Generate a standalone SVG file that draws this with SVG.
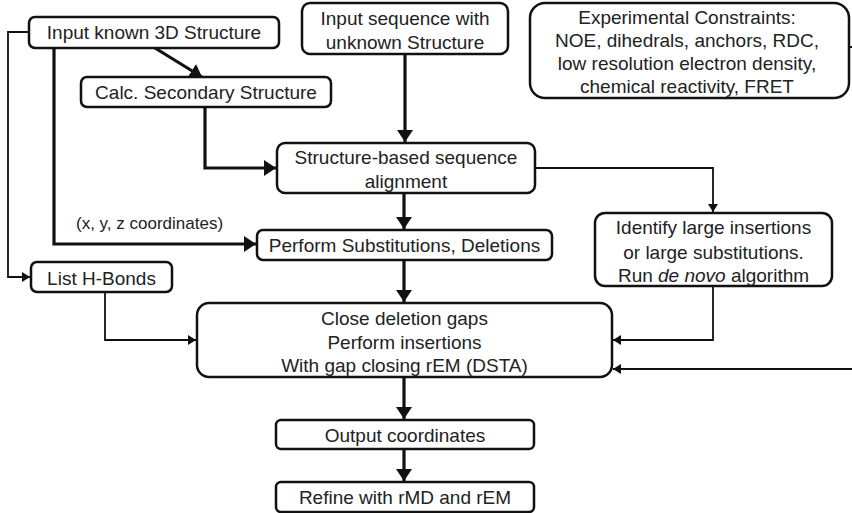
<svg xmlns="http://www.w3.org/2000/svg" width="852" height="513" viewBox="0 0 852 513">
  <style>
    .box { fill: #fff; stroke: #111; stroke-width: 2.5; }
    .t { font-family: "Liberation Sans", Arial, sans-serif; font-size: 19px; fill: #222; text-anchor: middle; }
    .lbl { font-family: "Liberation Sans", Arial, sans-serif; font-size: 17px; fill: #222; }
    .thick { fill: none; stroke: #111; stroke-width: 3.2; }
    .thin { fill: none; stroke: #111; stroke-width: 1.8; }
  </style>
  <defs>
    <marker id="headBig" markerUnits="userSpaceOnUse" markerWidth="12" markerHeight="16" refX="12" refY="8" orient="auto">
      <path d="M0,0 L12,8 L0,16 z" fill="#111"/>
    </marker>
    <marker id="headSmall" markerUnits="userSpaceOnUse" markerWidth="8" markerHeight="10" refX="8" refY="5" orient="auto">
      <path d="M0,0 L8,5 L0,10 z" fill="#111"/>
    </marker>
  </defs>
  <rect width="852" height="513" fill="#fff"/>

  <g id="connectors">
    <path class="thick" d="M155 48 L202 77" marker-end="url(#headBig)"/>
    <path class="thick" d="M205 107 V168 H276" marker-end="url(#headBig)"/>
    <path class="thick" d="M405 54 V142" marker-end="url(#headBig)"/>
    <path class="thick" d="M54 48 V244 H256" marker-end="url(#headBig)"/>
    <path class="thin" d="M29 32 H8 V277 H30" marker-end="url(#headSmall)"/>
    <path class="thick" d="M404 193 V229" marker-end="url(#headBig)"/>
    <path class="thin" d="M535 168 H713 V212" marker-end="url(#headSmall)"/>
    <path class="thick" d="M404 260 V302" marker-end="url(#headBig)"/>
    <path class="thin" d="M105 292 V340 H196" marker-end="url(#headSmall)"/>
    <path class="thin" d="M713 286 V340 H613" marker-end="url(#headSmall)"/>
    <path class="thin" d="M849 47 H858 V369 H613" marker-end="url(#headSmall)"/>
    <path class="thick" d="M404 377 V419" marker-end="url(#headBig)"/>
    <path class="thick" d="M404 449 V481" marker-end="url(#headBig)"/>
  </g>

  <g id="input3d">
    <rect class="box" x="29" y="17" width="250" height="31" rx="6"/>
    <text class="t" x="154" y="39">Input known 3D Structure</text>
  </g>
  <g id="secondary">
    <rect class="box" x="81" y="77" width="250" height="30" rx="6"/>
    <text class="t" x="206" y="99">Calc. Secondary Structure</text>
  </g>
  <g id="inputseq">
    <rect class="box" x="302" y="3" width="206" height="51" rx="8"/>
    <text class="t" x="405" y="25">Input sequence with</text>
    <text class="t" x="405" y="49">unknown Structure</text>
  </g>
  <g id="constraints">
    <rect class="box" x="530" y="3" width="319" height="95" rx="15"/>
    <text class="t" x="687" y="24">Experimental Constraints:</text>
    <text class="t" x="687" y="47">NOE, dihedrals, anchors, RDC,</text>
    <text class="t" x="687" y="70">low resolution electron density,</text>
    <text class="t" x="687" y="93">chemical reactivity, FRET</text>
  </g>
  <g id="alignment">
    <rect class="box" x="277" y="143" width="258" height="50" rx="8"/>
    <text class="t" x="406" y="164">Structure-based sequence</text>
    <text class="t" x="406" y="188">alignment</text>
  </g>
  <g id="coordlabel">
    <text class="lbl" x="76" y="229">(x, y, z coordinates)</text>
  </g>
  <g id="substitutions">
    <rect class="box" x="257" y="230" width="295" height="30" rx="6"/>
    <text class="t" x="404.5" y="252">Perform Substitutions, Deletions</text>
  </g>
  <g id="identify">
    <rect class="box" x="595" y="213" width="237" height="73" rx="10"/>
    <text class="t" x="713.5" y="234">Identify large insertions</text>
    <text class="t" x="713.5" y="259">or large substitutions.</text>
    <text class="t" x="713.5" y="282">Run <tspan font-style="italic">de novo</tspan> algorithm</text>
  </g>
  <g id="hbonds">
    <rect class="box" x="31" y="262" width="141" height="30" rx="6"/>
    <text class="t" x="101.5" y="285">List H-Bonds</text>
  </g>
  <g id="closegaps">
    <rect class="box" x="197" y="303" width="415" height="74" rx="12"/>
    <text class="t" x="404.5" y="325">Close deletion gaps</text>
    <text class="t" x="404.5" y="349">Perform insertions</text>
    <text class="t" x="404.5" y="372">With gap closing rEM (DSTA)</text>
  </g>
  <g id="output">
    <rect class="box" x="276" y="420" width="258" height="29" rx="5"/>
    <text class="t" x="405" y="442">Output coordinates</text>
  </g>
  <g id="refine">
    <rect class="box" x="276" y="482" width="258" height="30" rx="5"/>
    <text class="t" x="405" y="504">Refine with rMD and rEM</text>
  </g>
</svg>
